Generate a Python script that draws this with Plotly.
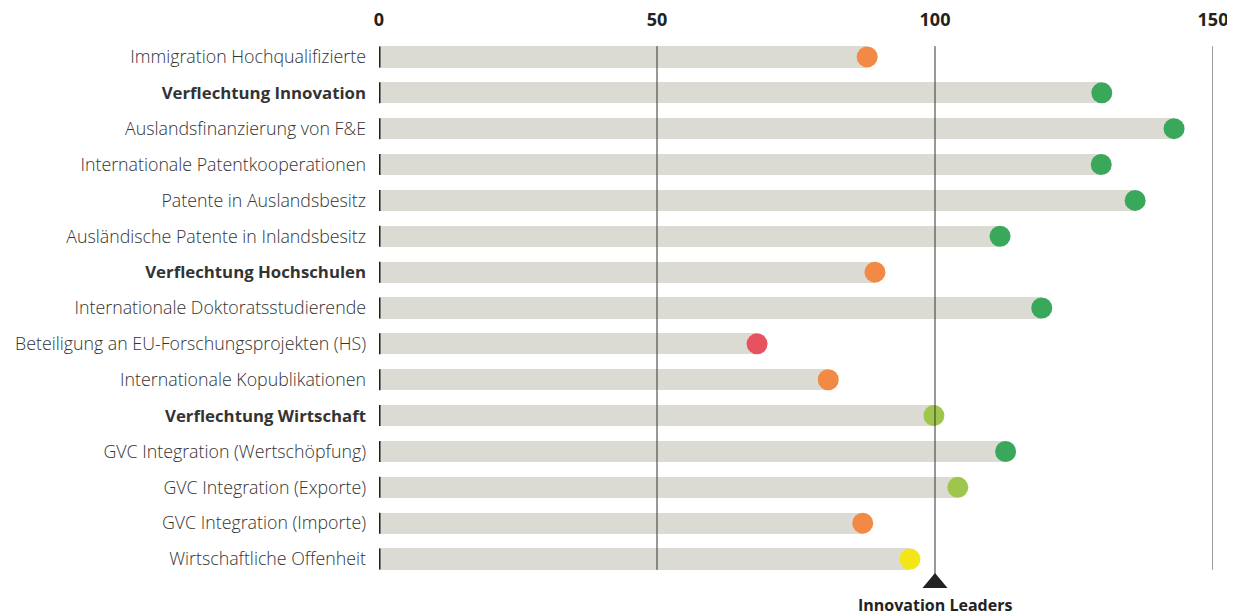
import plotly.graph_objects as go

# indicator names (top to bottom), bold = aggregate
labels = [
    "Immigration Hochqualifizierte",
    "<b>Verflechtung Innovation</b>",
    "Auslandsfinanzierung von F&E",
    "Internationale Patentkooperationen",
    "Patente in Auslandsbesitz",
    "Ausländische Patente in Inlandsbesitz",
    "<b>Verflechtung Hochschulen</b>",
    "Internationale Doktoratsstudierende",
    "Beteiligung an EU-Forschungsprojekten (HS)",
    "Internationale Kopublikationen",
    "<b>Verflechtung Wirtschaft</b>",
    "GVC Integration (Wertschöpfung)",
    "GVC Integration (Exporte)",
    "GVC Integration (Importe)",
    "Wirtschaftliche Offenheit",
]
values = [87.8, 130.0, 143.0, 129.9, 136.0, 111.7, 89.2, 119.2, 68.0, 80.8,
          99.8, 112.7, 104.1, 87.0, 95.5]
rating = ["orange", "green", "green", "green", "green", "green", "orange", "green",
          "red", "orange", "lightgreen", "green", "lightgreen", "orange", "yellow"]
tick_vals = [0, 50, 100, 150]
benchmark = 100
benchmark_label = "Innovation Leaders"

palette = {
    "green": "#3aa85b",
    "lightgreen": "#9fc64c",
    "orange": "#f28a45",
    "red": "#e8525f",
    "yellow": "#f3e516",
}

ypos = list(range(len(labels)))
font = "Open Sans"

# bold rows are set a bit smaller so their width matches the light ones
ticktext = [
    '<span style="font-size:16.8px">%s</span>' % s if s.startswith("<b>") else s
    for s in labels
]

fig = go.Figure()
fig.add_trace(go.Bar(
    y=ypos, x=values, orientation="h", width=0.59,
    marker=dict(color="#dcdbd3", line=dict(width=0)),
    hoverinfo="skip",
))
# black marks at zero (one short tick per bar)
fig.add_trace(go.Scatter(
    y=ypos, x=[0] * len(ypos), mode="markers",
    marker=dict(symbol="line-ns", size=15, line=dict(width=3, color="#1f1f1f")),
    hoverinfo="skip",
))
fig.add_trace(go.Scatter(
    y=ypos, x=values, mode="markers",
    marker=dict(size=21, color=[palette[r] for r in rating], line=dict(width=0)),
    hovertemplate="%{x}<extra></extra>",
))

shapes = []
for t in tick_vals[1:]:
    shapes.append(dict(
        type="line", xref="x", yref="y", x0=t, x1=t,
        y0=-0.3, y1=len(labels) - 0.4 if t == benchmark else len(labels) - 0.7,
        line=dict(color="#333333", width=1), layer="above",
    ))
# benchmark triangle below the plot
shapes.append(dict(
    type="path", xref="x", yref="paper", xsizemode="pixel", ysizemode="pixel",
    xanchor=benchmark, yanchor=0,
    path="M-12.5,-11 L12.5,-11 L0,4 Z",
    fillcolor="#222222", line=dict(width=0), layer="above",
))

fig.update_layout(
    width=1235, height=616,
    margin=dict(l=371, r=30, t=31, b=47),
    paper_bgcolor="white", plot_bgcolor="white",
    showlegend=False,
    bargap=0,
    shapes=shapes,
    annotations=[dict(
        x=benchmark, y=0, xref="x", yref="paper", yshift=-28, yanchor="middle",
        text="<b>" + benchmark_label + "</b>", showarrow=False,
        font=dict(family=font, size=16, color="#222222"),
    )],
    xaxis=dict(
        side="top", range=[0, 150], tickvals=tick_vals,
        ticktext=["<b>%d</b>" % v for v in tick_vals],
        showgrid=False, zeroline=False, showline=False, ticks="",
        tickfont=dict(family=font, size=18, color="#222222"),
        ticklabelstandoff=8, automargin=False,
    ),
    yaxis=dict(
        range=[len(labels) - 0.5, -0.5], tickvals=ypos, ticktext=ticktext,
        showgrid=False, zeroline=False, showline=False, ticks="",
        tickfont=dict(family=font, size=17.8, color="#333333", weight=300),
        ticklabelstandoff=12, automargin=False,
    ),
)

fig.write_html("out.html")
